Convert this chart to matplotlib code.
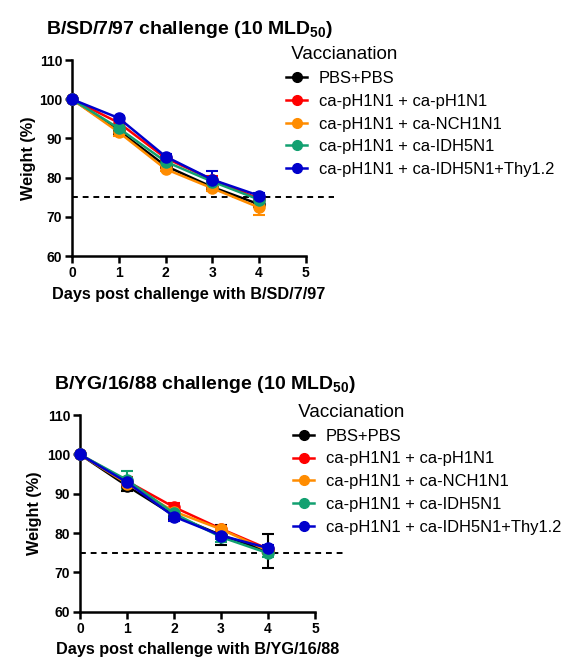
"""Weight loss after B virus challenge, two panels (SD/7/97 and YG/16/88)."""

import matplotlib
matplotlib.use("Agg")
import matplotlib.pyplot as plt
from matplotlib.lines import Line2D

plt.rcParams.update({
    "font.family": "Liberation Sans",
    "mathtext.fontset": "custom",
    "mathtext.rm": "Liberation Sans",
    "mathtext.bf": "Liberation Sans:bold",
    "axes.linewidth": 1.8,
})

days = [0, 1, 2, 3, 4]
groups = ["PBS+PBS", "ca-pH1N1 + ca-pH1N1", "ca-pH1N1 + ca-NCH1N1",
          "ca-pH1N1 + ca-IDH5N1", "ca-pH1N1 + ca-IDH5N1+Thy1.2"]
colors = ["#000000", "#ff0000", "#ff8c00", "#12a070", "#0000cc"]

# panel 1: B/SD/7/97
sd_mean = [
    [100, 92.0, 83.0, 77.6, 73.2],
    [100, 94.0, 85.0, 79.5, 74.6],
    [100, 91.6, 82.2, 77.3, 72.4],
    [100, 92.6, 84.1, 79.0, 74.4],
    [100, 95.2, 85.4, 79.5, 75.4],
]
sd_err = [
    [0, 0.8, 0.6, 0.6, 0.8],
    [0, 0.6, 0.6, 0.8, 0.6],
    [0, 1.0, 0.6, 0.8, 1.9],
    [0, 0.8, 0.6, 0.8, 0.6],
    [0, 0.6, 0.6, 2.2, 0.6],
]
# panel 2: B/YG/16/88
yg_mean = [
    [100, 92.0, 84.5, 79.5, 75.4],
    [100, 93.2, 86.6, 81.1, 76.0],
    [100, 92.6, 85.5, 81.0, 75.5],
    [100, 93.5, 85.0, 79.0, 74.9],
    [100, 92.9, 84.2, 79.4, 76.2],
]
yg_err = [
    [0, 1.3, 1.0, 2.5, 4.3],
    [0, 1.0, 1.0, 0.8, 0.8],
    [0, 1.0, 1.0, 0.8, 0.8],
    [0, 2.4, 1.0, 1.2, 1.0],
    [0, 1.0, 1.0, 0.8, 0.8],
]

fig = plt.figure(figsize=(5.76, 6.6), dpi=100)
panels = [
    ([0.125, 0.612, 0.406, 0.297], sd_mean, sd_err, "B/SD/7/97", (0.485, 0.940), 2),
    ([0.139, 0.073, 0.408, 0.298], yg_mean, yg_err, "B/YG/16/88", (0.497, 0.398), 4),
]

for rect, means, errs, strain, leg_pos, ypad in panels:
    ax = fig.add_axes(rect)
    for m, e, c in zip(means, errs, colors):
        ax.errorbar(days, m, yerr=e, color=c, marker="o", markersize=8,
                    linewidth=1.8, elinewidth=1.5, capsize=4, capthick=1.5,
                    clip_on=False, zorder=3)
    ax.plot([0, 5.6], [75, 75], "k--", linewidth=1.4, dashes=(3, 2.5),
            clip_on=False, zorder=2)
    ax.set_xlim(0, 5)
    ax.set_ylim(60, 110)
    ax.set_xticks(range(6))
    ax.set_yticks(range(60, 111, 10))
    ax.spines[["top", "right"]].set_visible(False)
    ax.tick_params(width=1.8, length=5, labelsize=10, pad=2)
    for lab in ax.get_xticklabels() + ax.get_yticklabels():
        lab.set_fontweight("bold")
    ax.set_xlabel(f"Days post challenge with {strain}", fontsize=11.7,
                  fontweight="bold", labelpad=5)
    ax.set_ylabel("Weight (%)", fontsize=11.7, fontweight="bold", labelpad=ypad)
    ax.text(-0.11, 1.1, strain + r" challenge (10 MLD$_{\mathbf{50}}$)",
            transform=ax.transAxes, fontsize=14, fontweight="bold",
            ha="left", va="bottom")

    handles = [Line2D([], [], color=c, marker="o", markersize=7, linewidth=1.8)
               for c in colors]
    leg = fig.legend(handles, groups, title=" Vaccianation", loc="upper left",
                     bbox_to_anchor=leg_pos, frameon=False, fontsize=11.9,
                     title_fontsize=13.5, handlelength=1.3, labelspacing=0.47,
                     handletextpad=0.7, borderaxespad=0)
    leg._legend_box.align = "left"

fig.savefig("out.png", dpi=100)
